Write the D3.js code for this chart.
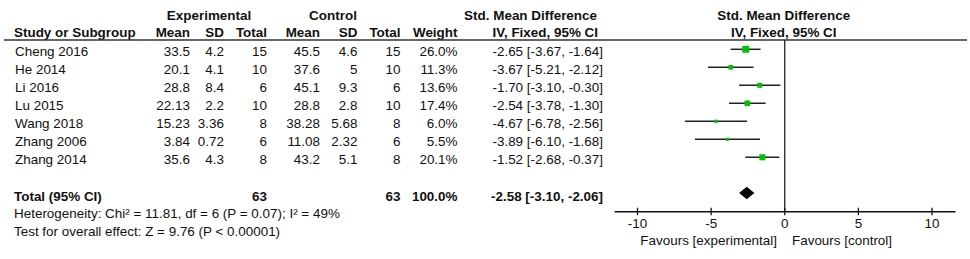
<!DOCTYPE html>
<html><head><meta charset="utf-8">
<script src="https://cdn.jsdelivr.net/npm/d3@7"></script>
<style>
html,body{margin:0;padding:0;background:#fff;}
svg{display:block;}
text{font-family:"Liberation Sans",Arial,sans-serif;font-size:12px;fill:#111;}
.b{font-weight:bold;}
</style></head><body>
<script>
const studies = ["Cheng 2016","He 2014","Li 2016","Lu 2015","Wang 2018","Zhang 2006","Zhang 2014"];
const expMean = [33.5,20.1,28.8,22.13,15.23,3.84,35.6];
const expSD = [4.2,4.1,8.4,2.2,3.36,0.72,4.3];
const expN = [15,10,6,10,8,6,8];
const ctlMean = [45.5,37.6,45.1,28.8,38.28,11.08,43.2];
const ctlSD = [4.6,5,9.3,2.8,5.68,2.32,5.1];
const ctlN = [15,10,6,10,8,6,8];
const weights = [26.0,11.3,13.6,17.4,6.0,5.5,20.1];
const smd = [-2.65,-3.67,-1.70,-2.54,-4.67,-3.89,-1.52];
const ciLow = [-3.67,-5.21,-3.10,-3.78,-6.78,-6.10,-2.68];
const ciHigh = [-1.64,-2.12,-0.30,-1.30,-2.56,-1.68,-0.37];
const totalLabel = "Total (95% CI)";
const totalExpN = 63, totalCtlN = 63, totalWeight = 100.0;
const totalSMD = -2.58, totalLow = -3.10, totalHigh = -2.06;
const heterogeneity = "Heterogeneity: Chi\u00B2 = 11.81, df = 6 (P = 0.07); I\u00B2 = 49%";
const overallTest = "Test for overall effect: Z = 9.76 (P < 0.00001)";
const tickValues = [-10,-5,0,5,10];
const favourLeft = "Favours [experimental]", favourRight = "Favours [control]";

const W = 970, H = 259, SX = 1.12;
const svg = d3.select("body").append("svg").attr("width", W).attr("height", H);

const y = d3.scaleLinear().domain([0, 8]).range([49.3, 193.3]);
const x = d3.scaleLinear().domain([-10, 10]).range([637.5, 932]);
const hy = s => s.replace(/\u2212/g, "-");
const f2 = v => hy(d3.format(".2f")(v)), f1 = v => hy(d3.format(".1f")(v));
const ciText = (m, l, h) => `${f2(m)} [${f2(l)}, ${f2(h)}]`;

function txt(g, s, px, py, anchor, bold) {
  g.append("text").attr("transform", `translate(${px},${py}) scale(${SX},1)`)
    .attr("text-anchor", anchor || "start").attr("class", bold ? "b" : null).text(s);
}
const T = svg.append("g");

// headers
txt(T, "Experimental", 209, 20, "middle", true);
txt(T, "Control", 333, 20, "middle", true);
txt(T, "Std. Mean Difference", 597, 20, "end", true);
txt(T, "Std. Mean Difference", x(0) - 1, 20, "middle", true);
txt(T, "Study or Subgroup", 14, 37, "start", true);
[["Mean",190],["SD",224],["Total",267],["Mean",320],["SD",357.5],["Total",400.5],["Weight",457.5]]
  .forEach(([s,px]) => txt(T, s, px, 37, "end", true));
txt(T, "IV, Fixed, 95% CI", 598, 37, "end", true);
txt(T, "IV, Fixed, 95% CI", x(0) - 1, 37, "middle", true);

svg.append("line").attr("x1", 4).attr("x2", 967).attr("y1", 40).attr("y2", 40)
  .attr("stroke", "#333").attr("stroke-width", 1.6);

const off = 6.6;
studies.forEach((s, i) => {
  const yy = y(i) + off;
  txt(T, s, 15, yy, "start");
  txt(T, String(expMean[i]), 190, yy, "end");
  txt(T, String(expSD[i]), 224, yy, "end");
  txt(T, String(expN[i]), 267, yy, "end");
  txt(T, String(ctlMean[i]), 320, yy, "end");
  txt(T, String(ctlSD[i]), 357.5, yy, "end");
  txt(T, String(ctlN[i]), 400.5, yy, "end");
  txt(T, f1(weights[i]) + "%", 457.5, yy, "end");
  txt(T, ciText(smd[i], ciLow[i], ciHigh[i]), 603, yy, "end");
});
const ty = y(8) + off + 0.8;
txt(T, totalLabel, 14, ty, "start", true);
txt(T, String(totalExpN), 267, ty, "end", true);
txt(T, String(totalCtlN), 400.5, ty, "end", true);
txt(T, f1(totalWeight) + "%", 457.5, ty, "end", true);
txt(T, ciText(totalSMD, totalLow, totalHigh), 603, ty, "end", true);
txt(T, heterogeneity, 14, 217.7, "start");
txt(T, overallTest, 14, 236, "start");

// forest plot
const axisY = 211.7;
svg.append("line").attr("x1", x(0)).attr("x2", x(0)).attr("y1", 40).attr("y2", axisY)
  .attr("stroke", "#111").attr("stroke-width", 1.2);

const F = svg.append("g");
studies.forEach((s, i) => {
  F.append("line").attr("x1", x(ciLow[i])).attr("x2", x(ciHigh[i]))
    .attr("y1", y(i)).attr("y2", y(i)).attr("stroke", "#222").attr("stroke-width", 1.5);
  const side = 1.35 * Math.sqrt(weights[i]);
  F.append("rect").attr("x", x(smd[i]) - side / 2).attr("y", y(i) - side / 2)
    .attr("width", side).attr("height", side).attr("fill", "#00c000");
});
const dy = y(8) - 0.3, dh = 6.3;
F.append("path").attr("d", `M${x(totalLow)},${dy} L${x(totalSMD)},${dy - dh} L${x(totalHigh)},${dy} L${x(totalSMD)},${dy + dh} Z`)
  .attr("fill", "#000");

// axis
svg.append("line").attr("x1", x(-11.55)).attr("x2", x(11.6)).attr("y1", axisY).attr("y2", axisY)
  .attr("stroke", "#111").attr("stroke-width", 1.4);
const ax = svg.append("g").attr("transform", `translate(0,${axisY})`)
  .call(d3.axisBottom(x).tickValues(tickValues).tickSize(0).tickFormat(d => String(d)));
ax.select(".domain").remove();
ax.selectAll(".tick line").remove();
ax.selectAll(".tick text").remove();
tickValues.forEach(v => {
  svg.append("line").attr("x1", x(v)).attr("x2", x(v)).attr("y1", axisY - 4).attr("y2", axisY + 3.5)
    .attr("stroke", "#111").attr("stroke-width", 1.3);
  txt(svg, String(v), x(v), 227.5, "middle");
});
txt(svg, favourLeft, 777, 245, "end");
txt(svg, favourRight, 792, 245, "start");
</script>
</body></html>
